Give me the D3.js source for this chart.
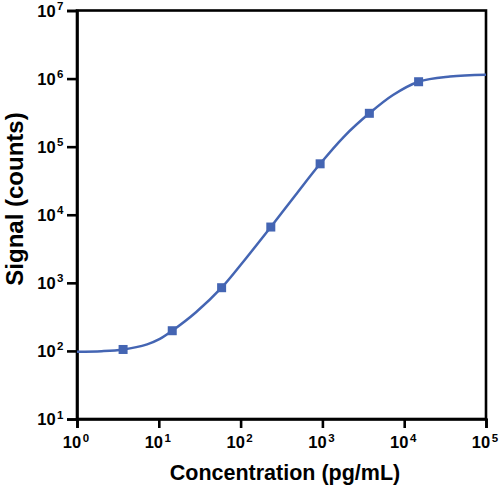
<!DOCTYPE html>
<html>
<head>
<meta charset="utf-8">
<script src="https://cdn.jsdelivr.net/npm/d3@7"></script>
<style>
  body { margin: 0; background: #fff; }
  svg { display: block; font-family: "Liberation Sans", Arial, sans-serif; }
</style>
</head>
<body>
<div id="chart"></div>
<script>
// standard points: concentration (pg/mL) and signal (counts)
const concentrations = [3.66, 14.6, 58.6, 234, 938, 3750, 15000]
const signals = [105, 198, 848, 6600, 56000, 309000, 899000]

// fitted curve
const curveX = [1, 2, 3.66, 7.2, 10.3, 14.6, 28.5, 58.6, 116, 234, 470, 938, 1840, 3750, 7300, 15000, 36300, 100000]
const curveY = [97, 99, 105, 125, 150, 198, 370, 848, 2280, 6600, 19500, 56000, 141000, 309000, 574000, 899000, 1070000, 1140000]

const xTickExp = [0, 1, 2, 3, 4, 5]
const yTickExp = [1, 2, 3, 4, 5, 6, 7]

const xTitle = 'Concentration (pg/mL)'
const yTitle = 'Signal (counts)'

const width = 500
const height = 492
const margin = { top: 10.5, right: 14, bottom: 73, left: 77 }
const blue = '#4465b3'

const svg = d3.select('#chart')
  .append('svg')
  .attr('width', width)
  .attr('height', height)

const x = d3.scaleLog()
  .domain([1, 1e5])
  .range([margin.left, width - margin.right])

const y = d3.scaleLog()
  .domain([10, 1e7])
  .range([height - margin.bottom, margin.top])

// frame
svg.append('rect')
  .attr('x', x(1))
  .attr('y', y(1e7))
  .attr('width', x(1e5) - x(1))
  .attr('height', y(10) - y(1e7))
  .attr('fill', 'none')
  .attr('stroke', '#000')
  .attr('stroke-width', 2.6)

const xAxis = svg.append('g')
  .attr('transform', `translate(0,${y(10)})`)
  .call(d3.axisBottom(x).tickValues(xTickExp.map(e => Math.pow(10, e))).tickSize(9).tickFormat(''))

const yAxis = svg.append('g')
  .attr('transform', `translate(${x(1)},0)`)
  .call(d3.axisLeft(y).tickValues(yTickExp.map(e => Math.pow(10, e))).tickSize(10).tickFormat(''))

for (const g of [xAxis, yAxis]) {
  g.select('.domain').attr('stroke-width', 2.6)
  g.selectAll('.tick line').attr('stroke-width', 2.6)
}

// tick labels with superscripts
function powerLabel(sel) {
  sel.append('tspan').text('10')
  sel.append('tspan')
    .attr('dy', -6.5)
    .attr('font-size', 11.5)
    .attr('dx', 1.5)
    .text(d => d)
}

svg.append('g')
  .selectAll('text')
  .data(xTickExp)
  .join('text')
  .attr('x', d => x(Math.pow(10, d)) - 1)
  .attr('y', 448)
  .attr('text-anchor', 'middle')
  .attr('font-size', 16.5)
  .attr('font-weight', 'bold')
  .call(powerLabel)

svg.append('g')
  .selectAll('text')
  .data(yTickExp)
  .join('text')
  .attr('x', 63.5)
  .attr('y', d => y(Math.pow(10, d)) + 6)
  .attr('text-anchor', 'end')
  .attr('font-size', 16.5)
  .attr('font-weight', 'bold')
  .call(powerLabel)

// curve
const line = d3.line()
  .x(d => x(d[0]))
  .y(d => y(d[1]))
  .curve(d3.curveCatmullRom.alpha(0.5))

svg.append('path')
  .datum(curveX.map((c, i) => [c, curveY[i]]))
  .attr('d', line)
  .attr('fill', 'none')
  .attr('stroke', blue)
  .attr('stroke-width', 2.5)

// points
svg.append('g')
  .selectAll('rect')
  .data(concentrations)
  .join('rect')
  .attr('x', d => x(d) - 4.5)
  .attr('y', (d, i) => y(signals[i]) - 4.5)
  .attr('width', 9)
  .attr('height', 9)
  .attr('fill', blue)

// axis titles
svg.append('text')
  .attr('x', 285)
  .attr('y', 479.5)
  .attr('text-anchor', 'middle')
  .attr('font-size', 21.5)
  .attr('font-weight', 'bold')
  .text(xTitle)

svg.append('text')
  .attr('transform', 'translate(22.5,199) rotate(-90)')
  .attr('text-anchor', 'middle')
  .attr('font-size', 24)
  .attr('font-weight', 'bold')
  .text(yTitle)
</script>
</body>
</html>
